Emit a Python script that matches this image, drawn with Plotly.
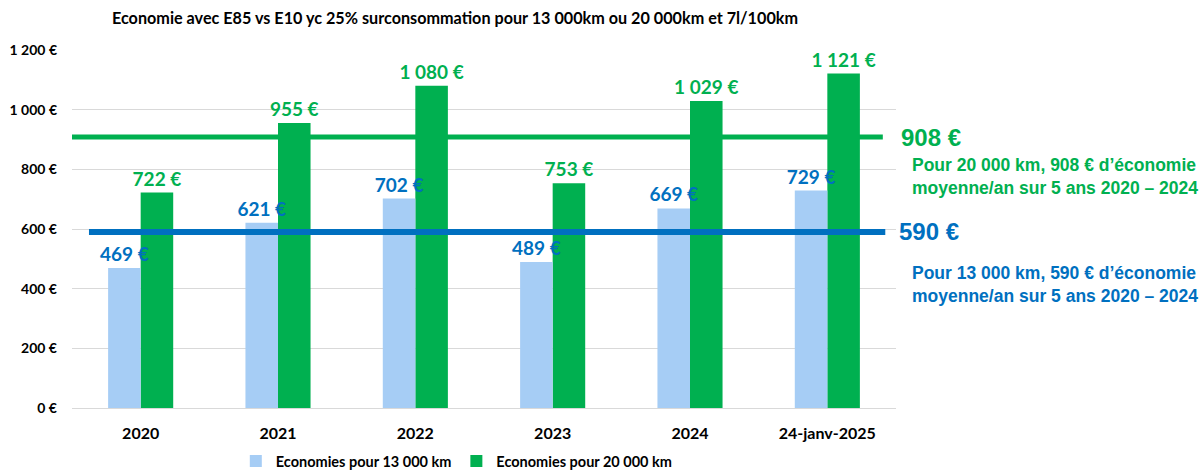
import plotly.graph_objects as go

categories = ["2020", "2021", "2022", "2023", "2024", "24-janv-2025"]
eco_13000 = [469, 621, 702, 489, 669, 729]
eco_20000 = [722, 955, 1080, 753, 1029, 1121]
avg_13000 = 590
avg_20000 = 908
series_names = ["Economies pour 13 000 km", "Economies pour 20 000 km"]
title_text = "Economie avec E85 vs E10 yc 25% surconsommation pour 13 000km ou 20 000km et 7l/100km"
note_20000 = "Pour 20 000 km, {} € d’économie<br>moyenne/an sur 5 ans 2020 – 2024"
note_13000 = "Pour 13 000 km, {} € d’économie<br>moyenne/an sur 5 ans 2020 – 2024"

LIGHT_BLUE = "#A6CDF5"
DARK_BLUE = "#0070C0"
GREEN = "#00B050"
FONT = "Lato"
BAR_W = 0.237

fig = go.Figure()
# green drawn first so that the blue labels sit on top of the green bars
fig.add_trace(go.Bar(
    x=categories, y=eco_20000, name=series_names[1], legendrank=2,
    offset=0, width=BAR_W,
    marker=dict(color=GREEN, line=dict(width=0)),
    texttemplate="%{y:,.0f} €", textposition="outside", constraintext="none",
    textfont=dict(family=FONT, size=19, color=GREEN, weight="bold"),
    cliponaxis=False,
))
fig.add_trace(go.Bar(
    x=categories, y=eco_13000, name=series_names[0], legendrank=1,
    offset=-BAR_W, width=BAR_W,
    marker=dict(color=LIGHT_BLUE, line=dict(width=0)),
    texttemplate="%{y:,.0f} €", textposition="outside", constraintext="none",
    textfont=dict(family=FONT, size=19, color=DARK_BLUE, weight="bold"),
    cliponaxis=False,
))

# average lines
fig.add_shape(type="line", xref="paper", yref="y", x0=0, x1=0.984,
              y0=avg_20000, y1=avg_20000, line=dict(color=GREEN, width=5), layer="above")
fig.add_shape(type="line", xref="paper", yref="y", x0=0.0206, x1=0.987,
              y0=avg_13000, y1=avg_13000, line=dict(color=DARK_BLUE, width=6), layer="above")

ann_font = "Liberation Sans"
fig.add_annotation(xref="paper", yref="y", x=1.0035, y=avg_20000, xanchor="left", yanchor="middle",
                   text=f"{avg_20000} €", showarrow=False,
                   font=dict(family=ann_font, size=24, color=GREEN, weight="bold"))
fig.add_annotation(xref="paper", yref="y", x=1.017, y=avg_20000, xanchor="left", yanchor="middle",
                   yshift=-39, align="left", text=note_20000.format(avg_20000), showarrow=False,
                   font=dict(family=ann_font, size=17.5, color=GREEN, weight="bold"))
fig.add_annotation(xref="paper", yref="y", x=1.001, y=avg_13000, xanchor="left", yanchor="middle",
                   text=f"{avg_13000} €", showarrow=False,
                   font=dict(family=ann_font, size=24, color=DARK_BLUE, weight="bold"))
fig.add_annotation(xref="paper", yref="y", x=1.017, y=avg_13000, xanchor="left", yanchor="middle",
                   yshift=-53, align="left", text=note_13000.format(avg_13000), showarrow=False,
                   font=dict(family=ann_font, size=17.5, color=DARK_BLUE, weight="bold"))

fig.update_layout(
    width=1200, height=472,
    margin=dict(l=72, r=304, t=50, b=64, autoexpand=False),
    paper_bgcolor="white", plot_bgcolor="white",
    separators=", ",
    font=dict(family=FONT, color="#000000"),
    barmode="overlay",
    title=dict(text=title_text, x=455 / 1200, xanchor="center", y=1 - 18 / 472, yanchor="middle",
               font=dict(family=FONT, size=16.2, color="#000000", weight="bold")),
    showlegend=True,
    legend=dict(orientation="h", x=0.467, xanchor="center", y=-0.148, yanchor="middle",
                font=dict(family=FONT, size=14.5, color="#000000", weight="bold"),
                itemwidth=30, bgcolor="rgba(0,0,0,0)"),
    xaxis=dict(showgrid=False, showline=False, zeroline=False, ticks="",
               ticklabelstandoff=14, automargin=False,
               tickfont=dict(family=FONT, size=16, color="#000000", weight="bold")),
    yaxis=dict(range=[0, 1200], dtick=200, tickformat=",.0f", ticksuffix=" €",
               showgrid=True, gridcolor="#D9D9D9", gridwidth=1,
               zeroline=True, zerolinecolor="#D9D9D9", zerolinewidth=1,
               showline=False, ticks="", ticklabelstandoff=14, automargin=False,
               tickfont=dict(family=FONT, size=14, color="#000000", weight="bold")),
)

fig.write_html("out.html")
